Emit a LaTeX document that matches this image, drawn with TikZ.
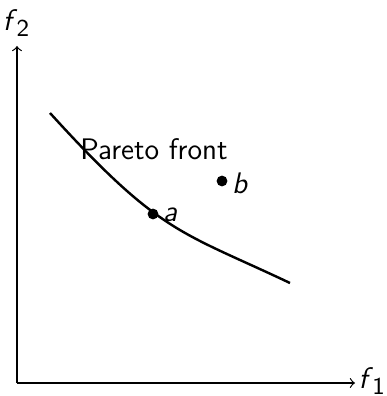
\documentclass[tikz,border=0pt]{standalone}
\usepackage{amsmath}
\newcommand{\fvar}[1]{\textit{f}\kern-0.02em\raisebox{-0.5ex}{\small #1}}
\begin{document}
\begin{tikzpicture}[x=0.37pt,y=-0.37pt,font=\sffamily\fontsize{11}{13}\selectfont,
  axis/.style={->,line width=0.45pt},
  front/.style={line width=0.9pt},
  dot/.style={circle,fill=black,inner sep=0pt,minimum size=4pt},
  lbl/.style={inner sep=1pt}]
\useasboundingbox (0,0) rectangle (387,396);
\coordinate (O) at (17,383);
\coordinate (X) at (355,383);
\coordinate (Y) at (17,46);
\coordinate (s) at (50,113);
\coordinate (e) at (290,283);
\draw[axis] (O) -- (Y);
\draw[axis] (O) -- (X);
\node[lbl] (f2) at (16,23) {\fvar{2}};
\node[inner sep=0pt,anchor=west] (f1) at (358,381) {\fvar{1}};
\draw[front] (s) .. controls (160,234) and (180,231) .. (e);
\node[dot] (a) at (153,214) {};
\node[dot] (b) at (222,181) {};
\node[lbl,anchor=west] (la) at (160,215) {\textit{a}};
\node[lbl,anchor=west] (lb) at (229,183) {\textit{b}};
\node[lbl] (pf) at (154,149) {Pareto front};
\end{tikzpicture}
\end{document}
